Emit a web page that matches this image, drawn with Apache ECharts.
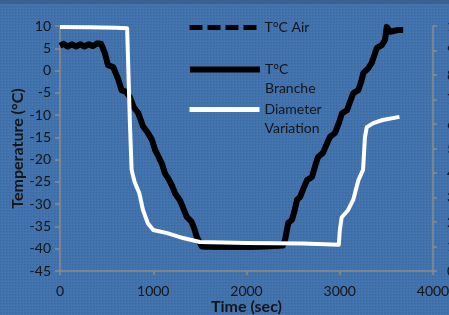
<!DOCTYPE html>
<html>
<head>
<meta charset="utf-8">
<script src="https://cdn.jsdelivr.net/npm/echarts@6/dist/echarts.min.js"></script>
<style>
  html, body { margin: 0; padding: 0; }
  #chart { width: 449px; height: 315px; }
</style>
</head>
<body>
<div id="chart"></div>
<script>
// tick labels
var yTicksLeft = [-45, -40, -35, -30, -25, -20, -15, -10, -5, 0, 5, 10];
var xTicks = [0, 1000, 2000, 3000, 4000];

// T°C Branche (thick black)
var branTime = [0, 40, 80, 130, 170, 220, 260, 310, 350, 400, 440, 480, 515, 570, 625, 660, 710, 750, 790, 840,
  890, 945, 985, 1020, 1055, 1095, 1125, 1160, 1200, 1235, 1285, 1320, 1358, 1410, 1440, 1466, 1520, 1700,
  2000, 2200, 2390, 2413, 2448, 2488, 2515, 2542, 2574, 2610, 2649, 2702, 2735, 2767, 2820, 2860, 2895, 2949,
  2990, 3024, 3078, 3110, 3145, 3198, 3230, 3252, 3305, 3342, 3399, 3451, 3486, 3504, 3540, 3625, 3680];
var branTemp = [5.6, 6.0, 5.4, 5.9, 5.4, 5.9, 5.4, 5.9, 5.5, 6.1, 6.0, 4.0, 1.2, 0.8, -2.0, -4.4, -4.8, -6.0, -8.2, -9.6,
  -12.5, -14.1, -15.5, -17.8, -19.3, -21.0, -23.1, -24.2, -25.8, -27.6, -29.1, -30.8, -32.8, -33.9, -35.5, -37.3, -39.5, -39.6,
  -39.6, -39.5, -39.3, -38.0, -34.2, -33.5, -31.5, -29.0, -28.4, -26.5, -24.6, -23.9, -21.5, -19.4, -18.5, -16.5, -14.9, -14.0,
  -11.8, -9.6, -8.9, -7.0, -5.1, -4.4, -2.5, -0.6, 0.5, 1.7, 5.1, 5.7, 6.9, 9.8, 8.7, 9.1, 9.1];

// T°C Air (dashed) - hidden under the branch line in the picture
var airTime = branTime;
var airTemp = [5.6, 6.0, 5.4, 5.9, 5.4, 5.9, 5.4, 5.9, 5.5, 6.1, 6.0, 4.0, 1.2, 0.8, -2.0, -4.4, -4.8, -6.0, -8.2, -9.6,
  -12.5, -14.1, -15.5, -17.8, -19.3, -21.0, -23.1, -24.2, -25.8, -27.6, -29.1, -30.8, -32.8, -33.9, -35.5, -37.3, -39.5, -39.6,
  -39.6, -39.5, -39.3, -38.0, -34.2, -33.5, -31.5, -29.0, -28.4, -26.5, -24.6, -23.9, -21.5, -19.4, -18.5, -16.5, -14.9, -14.0,
  -11.8, -9.6, -8.9, -7.0, -5.1, -4.4, -2.5, -0.6, 0.5, 1.7, 5.1, 5.7, 6.9, 9.8, 8.7, 9.1, 9.1];

// Diameter Variation (white)
var diamTime = [0, 300, 600, 720, 733, 736, 750, 768, 800, 850, 890, 940, 1000, 1150, 1320, 1500, 2000, 2600,
  2990, 3000, 3020, 3090, 3145, 3200, 3250, 3270, 3290, 3360, 3460, 3640];
var diamVal = [9.8, 9.7, 9.6, 9.5, 9.2, -2.0, -12.0, -22.3, -25.0, -27.5, -31.3, -34.2, -35.8, -36.5, -37.6, -38.5, -38.7, -38.8,
  -39.1, -36.0, -33.0, -31.3, -29.0, -24.6, -22.3, -15.0, -12.7, -11.8, -11.1, -10.4];

function pairs(xs, ys) {
  var out = [];
  for (var i = 0; i < xs.length; i++) out.push([xs[i], ys[i]]);
  return out;
}

// textured blue background
var tex = document.createElement('canvas');
tex.width = 3; tex.height = 3;
var tc = tex.getContext('2d');
tc.fillStyle = '#4172ab';
tc.fillRect(0, 0, 3, 3);
tc.fillStyle = '#3a67a0';
tc.fillRect(0, 0, 1, 1);
tc.fillStyle = '#4779b3';
tc.fillRect(2, 2, 1, 1);

var font = 'Lato, "Open Sans", sans-serif';
var axisGrey = '#8c8c8c';
var textCol = '#151515';

var chart = echarts.init(document.getElementById('chart'));

// one legend per entry so each sits where it does in the picture
function legendAt(name, top, lines, lineStyle) {
  return {
    left: 182,
    top: top,
    itemWidth: 70,
    itemHeight: 14,
    data: [name],
    itemStyle: { opacity: 0 },
    lineStyle: lineStyle,
    formatter: function () { return lines; },
    textStyle: { color: textCol, fontSize: 14, fontFamily: font, lineHeight: 19 }
  };
}

chart.setOption({
  animation: false,
  backgroundColor: { image: tex, repeat: 'repeat' },
  graphic: [{ type: 'rect', shape: { x: 0, y: 0, width: 449, height: 4 }, style: { fill: '#3b6091' } }],
  grid: { left: 60, right: 16, top: 26, bottom: 44, outerBoundsMode: 'none', containLabel: false },
  legend: [
    legendAt('T°C Air', 13, 'T°C Air', { width: 5, type: [13, 5], color: '#000' }),
    legendAt('T°C Branche', 36, '\nT°C\nBranche', { width: 6, color: '#000' }),
    legendAt('Diameter Variation', 76, '\nDiameter\nVariation', { width: 5, color: '#fff' })
  ],
  xAxis: {
    type: 'value',
    min: 0, max: 4000, interval: 1000,
    name: 'Time (sec)',
    nameLocation: 'middle',
    nameGap: 28,
    nameMoveOverlap: false,
    nameTextStyle: { color: textCol, fontSize: 16, fontWeight: 'bold', fontFamily: font },
    axisLine: { show: true, onZero: false, lineStyle: { color: axisGrey, width: 1.5 } },
    axisTick: { show: true, length: 4, lineStyle: { color: axisGrey, width: 1.5 } },
    axisLabel: { color: textCol, fontSize: 14, fontFamily: font, margin: 13,
      formatter: function (v) { return String(v); } },
    splitLine: { show: false }
  },
  yAxis: [{
    type: 'value',
    min: -45, max: 10, interval: 5,
    name: 'Temperature (°C)',
    nameLocation: 'middle',
    nameGap: 34,
    nameMoveOverlap: false,
    nameTextStyle: { color: textCol, fontSize: 16, fontWeight: 'bold', fontFamily: font },
    axisLine: { show: true, onZero: false, lineStyle: { color: axisGrey, width: 1.5 } },
    axisTick: { show: true, length: 5, lineStyle: { color: axisGrey, width: 1.5 } },
    axisLabel: { color: textCol, fontSize: 14, fontFamily: font, margin: 9 },
    splitLine: { show: false }
  }, {
    type: 'value',
    position: 'right',
    min: 0, max: 10, interval: 1,
    axisLine: { show: true, onZero: false, lineStyle: { color: axisGrey, width: 1.5 } },
    axisTick: { show: true, length: 4, lineStyle: { color: axisGrey, width: 1.5 } },
    axisLabel: { color: textCol, fontSize: 14, fontFamily: font, margin: 14 },
    splitLine: { show: false }
  }],
  series: [{
    name: 'T°C Air',
    type: 'line',
    symbol: 'none',
    data: pairs(airTime, airTemp),
    lineStyle: { color: '#000', width: 5, type: [13, 5] },
    itemStyle: { color: '#000' }
  }, {
    name: 'T°C Branche',
    type: 'line',
    symbol: 'none',
    data: pairs(branTime, branTemp),
    lineStyle: { color: '#000', width: 6, join: 'round' },
    itemStyle: { color: '#000' }
  }, {
    name: 'Diameter Variation',
    type: 'line',
    symbol: 'none',
    data: pairs(diamTime, diamVal),
    lineStyle: { color: '#fff', width: 4, join: 'round' },
    itemStyle: { color: '#fff' }
  }]
});
</script>
</body>
</html>
